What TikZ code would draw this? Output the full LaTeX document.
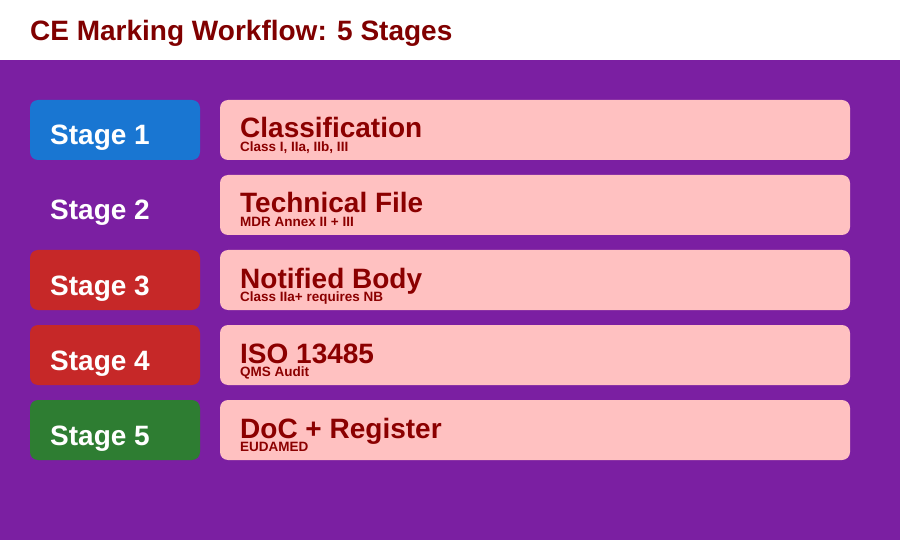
\documentclass[tikz,border=0pt]{standalone}
\usepackage{fontspec}
\setmainfont{Liberation Sans}
\usepackage{tikz}
\usetikzlibrary{positioning}
\definecolor{bgPurple}{HTML}{7B1FA2}
\definecolor{stageBlue}{HTML}{1976D2}
\definecolor{stageRed}{HTML}{C62828}
\definecolor{stageGreen}{HTML}{2E7D32}
\definecolor{cardPink}{HTML}{FFC1C1}
\definecolor{darkRed}{HTML}{8B0000}
\definecolor{titleRed}{HTML}{800000}

\begin{document}
\begin{tikzpicture}[%%
  x=1pt,y=-1pt,%%
  stageBox/.style={rectangle,rounded corners=8pt,minimum width=170pt,minimum height=60pt,inner sep=0pt},%%
  cardBox/.style={rectangle,rounded corners=8pt,fill=cardPink,minimum width=630pt,minimum height=60pt,inner sep=0pt},%%
  stageText/.style={anchor=base west,inner sep=0pt,text=white,font=\bfseries\fontsize{28}{30}\selectfont},%%
  headText/.style={anchor=base west,inner sep=0pt,text=darkRed,font=\bfseries\fontsize{28}{30}\selectfont},%%
  subText/.style={anchor=base west,inner sep=0pt,text=darkRed,font=\bfseries\fontsize{13.5}{15}\selectfont}%%
]
%%
\pgfmathsetmacro{\stageX}{115}
\pgfmathsetmacro{\cardX}{535}
\pgfmathsetmacro{\textX}{50}
\pgfmathsetmacro{\headX}{240}
%%
\useasboundingbox (0,0) rectangle (900,540);
%% Background and header band.
\fill[white] (0,0) rectangle (900,60);
\fill[bgPurple] (0,60) rectangle (900,540);
\node[anchor=base west,inner sep=0pt,text=titleRed,font=\bfseries\fontsize{28}{30}\selectfont] (title) at (30,41) {CE Marking Workflow: 5 Stages};
%% Stage 1
\node[stageBox,fill=stageBlue] (stageOne) at (\stageX,130) {};
\node[cardBox] (cardOne) at (\cardX,130) {};
\node[stageText] (stageOneText) at (\textX,145) {Stage 1};
\node[headText] (cardOneHead) at (\headX,138) {Classification};
\node[subText] (cardOneSub) at (\headX,151.5) {Class I, IIa, IIb, III};
%% Stage 2
\node[stageBox,fill=bgPurple] (stageTwo) at (\stageX,205) {};
\node[cardBox] (cardTwo) at (\cardX,205) {};
\node[stageText] (stageTwoText) at (\textX,220) {Stage 2};
\node[headText] (cardTwoHead) at (\headX,213) {Technical File};
\node[subText] (cardTwoSub) at (\headX,226.5) {MDR Annex II + III};
%% Stage 3
\node[stageBox,fill=stageRed] (stageThree) at (\stageX,280) {};
\node[cardBox] (cardThree) at (\cardX,280) {};
\node[stageText] (stageThreeText) at (\textX,295) {Stage 3};
\node[headText] (cardThreeHead) at (\headX,288) {Notified Body};
\node[subText] (cardThreeSub) at (\headX,301.5) {Class IIa+ requires NB};
%% Stage 4
\node[stageBox,fill=stageRed] (stageFour) at (\stageX,355) {};
\node[cardBox] (cardFour) at (\cardX,355) {};
\node[stageText] (stageFourText) at (\textX,370) {Stage 4};
\node[headText] (cardFourHead) at (\headX,363) {ISO 13485};
\node[subText] (cardFourSub) at (\headX,376.5) {QMS Audit};
%% Stage 5
\node[stageBox,fill=stageGreen] (stageFive) at (\stageX,430) {};
\node[cardBox] (cardFive) at (\cardX,430) {};
\node[stageText] (stageFiveText) at (\textX,445) {Stage 5};
\node[headText] (cardFiveHead) at (\headX,438) {DoC + Register};
\node[subText] (cardFiveSub) at (\headX,451.5) {EUDAMED};
\end{tikzpicture}
\end{document}
